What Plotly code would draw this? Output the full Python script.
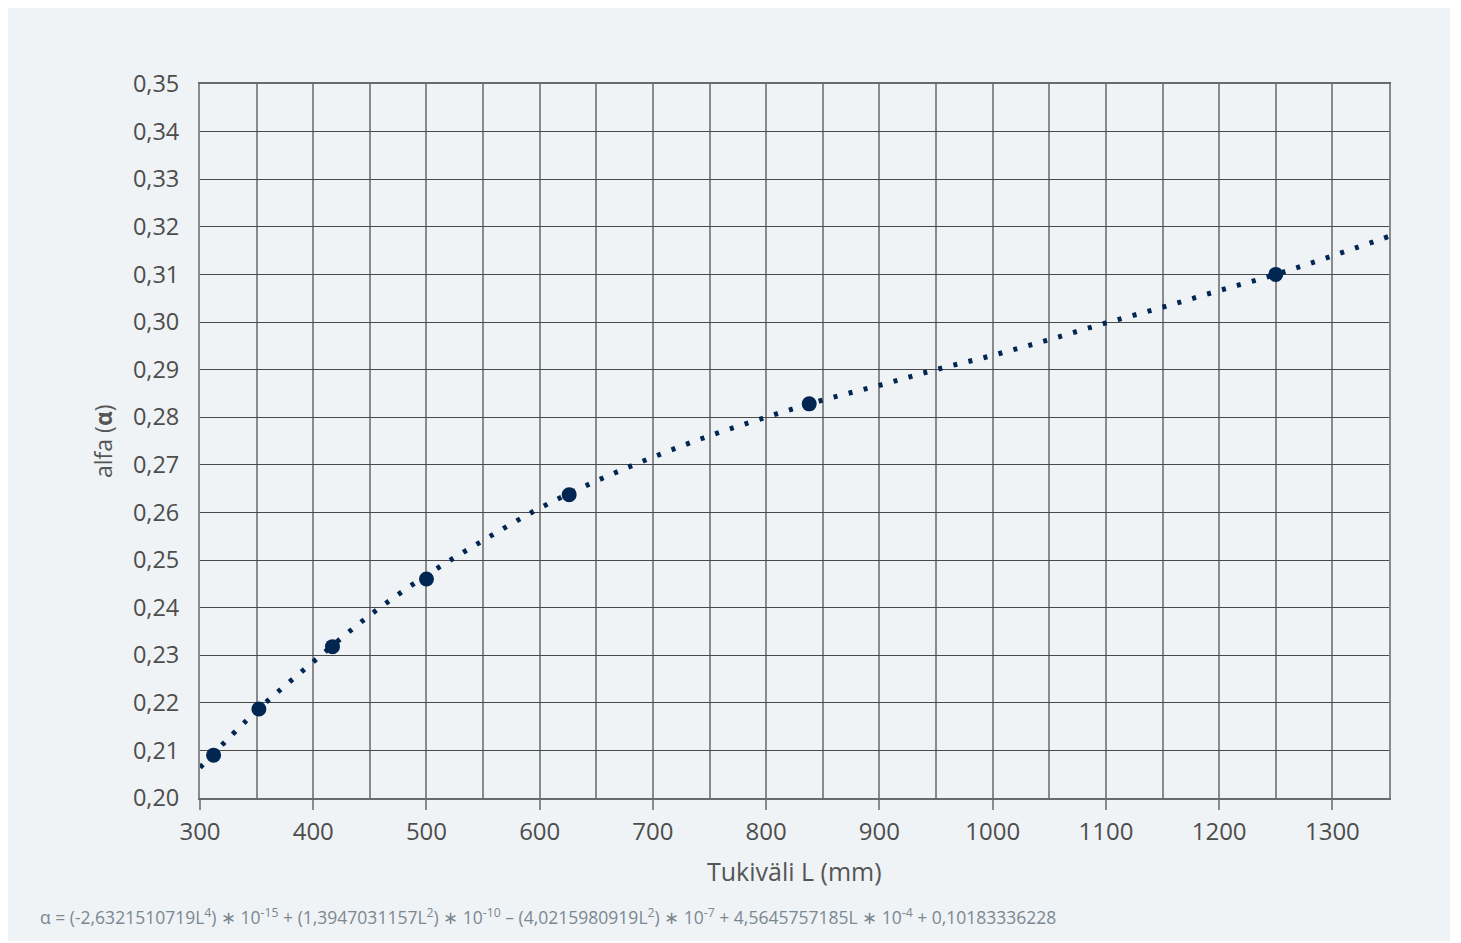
import plotly.graph_objects as go

# Measured points (Tukiväli L in mm, alfa)
L_points = [312, 352, 417, 500, 626, 838, 1250]
alpha_points = [0.2090, 0.2187, 0.2318, 0.2460, 0.2637, 0.2828, 0.3100]

# Trend line
L_trend = [300, 350, 400, 450, 500, 550, 600, 650, 700, 750, 800,
           850, 900, 950, 1000, 1050, 1100, 1150, 1200, 1250, 1300, 1350]
alpha_trend = [0.2064, 0.2183, 0.2286, 0.2384, 0.2468, 0.2541, 0.2609, 0.2666,
               0.2716, 0.2761, 0.2800, 0.2836, 0.2867, 0.2900, 0.2930, 0.2963,
               0.2998, 0.3031, 0.3066, 0.3100, 0.3139, 0.3180]

x_ticks = [300, 400, 500, 600, 700, 800, 900, 1000, 1100, 1200, 1300]
y_ticks = [0.20, 0.21, 0.22, 0.23, 0.24, 0.25, 0.26, 0.27, 0.28, 0.29,
           0.30, 0.31, 0.32, 0.33, 0.34, 0.35]

formula = ("α = (-2,6321510719L<sup>4</sup>) ∗ 10<sup>-15</sup> + (1,3947031157L<sup>2</sup>) ∗ 10<sup>-10</sup>"
           " – (4,0215980919L<sup>2</sup>) ∗ 10<sup>-7</sup> + 4,5645757185L ∗ 10<sup>-4</sup> + 0,10183336228")

NAVY = "#002651"
FONT = "Open Sans, Lato, sans-serif"

fig = go.Figure()
fig.add_trace(go.Scatter(
    x=L_trend, y=alpha_trend, mode="lines",
    line=dict(color=NAVY, width=5, dash="4px,11.5px", shape="spline"),
    hoverinfo="skip", showlegend=False))
fig.add_trace(go.Scatter(
    x=L_points, y=alpha_points, mode="markers",
    marker=dict(color=NAVY, size=15),
    showlegend=False))

fig.update_layout(
    width=1442, height=933,
    margin=dict(l=192, r=61, t=76, b=143, pad=0),
    paper_bgcolor="#eff3f6", plot_bgcolor="#eff3f6",
    separators=", ",
    font=dict(family=FONT, color="#4d4d4d"),
    showlegend=False,
)
fig.update_xaxes(
    range=[300, 1350], tickvals=x_ticks, ticktext=[str(v) for v in x_ticks],
    showgrid=True, gridcolor="#8a8a8a", gridwidth=2,
    minor=dict(dtick=50, tick0=300, showgrid=True, gridcolor="#8a8a8a", gridwidth=2),
    ticks="outside", ticklen=10, tickwidth=2, tickcolor="#8a8a8a",
    tickfont=dict(size=24, color="#4d4d4d", family=FONT),
    showline=True, mirror=True, linecolor="#6a6a6a", linewidth=1.5,
    zeroline=False, ticklabelstandoff=1,
)
fig.update_yaxes(
    range=[0.20, 0.35], tickvals=y_ticks, tickformat=".2f",
    showgrid=True, gridcolor="#4a4a4a", gridwidth=1.2,
    ticks="", tickfont=dict(size=23.5, color="#4d4d4d", family=FONT),
    showline=True, mirror=True, linecolor="#8a8a8a", linewidth=2,
    zeroline=False, ticklabelstandoff=14,
)

fig.add_annotation(text="Tukiväli L (mm)", xref="paper", yref="paper",
                   x=0.5, y=-0.1022, xanchor="center", yanchor="middle",
                   showarrow=False, font=dict(size=25, color="#555555", family=FONT))
fig.add_annotation(text="alfa (<b>α</b>)", xref="paper", yref="paper",
                   x=-0.0816, y=0.5, xanchor="center", yanchor="middle", textangle=-90,
                   showarrow=False, font=dict(size=23, color="#555555", family=FONT))
fig.add_annotation(text=formula, xref="paper", yref="paper",
                   x=-0.1362, y=-0.1653, xanchor="left", yanchor="middle",
                   showarrow=False, font=dict(size=17.5, color="#7b8791", family=FONT))

fig.write_html("out.html")
